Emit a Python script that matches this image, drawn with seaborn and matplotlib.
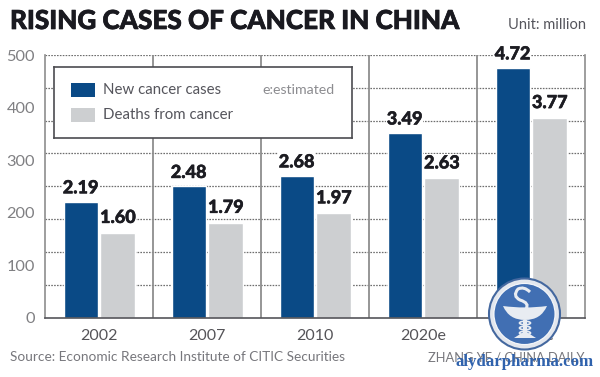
import matplotlib
matplotlib.use("Agg")
import matplotlib.pyplot as plt
import matplotlib.patches as mp
import matplotlib.patheffects as pe
from matplotlib.path import Path
import pandas as pd
import seaborn as sns

years = ["2002", "2007", "2010", "2020e", "2050e"]
new_cases = [2.19, 2.48, 2.68, 3.49, 4.72]
deaths = [1.60, 1.79, 1.97, 2.63, 3.77]
new_labels = ["2.19", "2.48", "2.68", "3.49", "4.72"]
death_labels = ["1.60", "1.79", "1.97", "2.63", "3.77"]
y_ticks = [0, 0.99, 1.98, 2.97, 3.96, 4.95]
y_tick_labels = ["0", "100", "200", "300", "400", "500"]
grid_levels = [0.62, 1.24, 1.86, 2.48, 3.10, 3.72, 4.34, 4.96]
series_names = ["New cancer cases", "Deaths from cancer"]

BLUE = "#0a4a86"
GRAY = "#cdcfd1"
W, H = 600, 377

sns.set_theme(style="white")
plt.rcParams["font.family"] = ["Lato", "DejaVu Sans"]

df = pd.DataFrame({
    "year": years * 2,
    "value": new_cases + deaths,
    "series": [series_names[0]] * 5 + [series_names[1]] * 5,
})

fig = plt.figure(figsize=(W / 100, H / 100), dpi=100, facecolor="white")
ax = fig.add_axes([45.3 / W, 1 - 317.5 / H, 540 / W, 262.5 / H])

ax.hlines(grid_levels, -0.5, 4.5, colors="#6e6e6e", linewidth=0.9,
          linestyles=(0, (1.3, 1.0)), zorder=1)
ax.vlines([0.5, 1.5, 2.5, 3.5], 0, 4.96, colors="#8e8e8e", linewidth=1.3, zorder=1)

sns.barplot(data=df, x="year", y="value", hue="series", order=years,
            hue_order=series_names, palette=[BLUE, GRAY], width=0.68, gap=0.06,
            saturation=1, legend=False, ax=ax, zorder=3)

ax.set_xlim(-0.5, 4.5)
ax.set_ylim(0, 4.96)
ax.set_xlabel("")
ax.set_ylabel("")
ax.set_yticks(y_ticks, y_tick_labels)
ax.tick_params(axis="y", length=0, pad=7.5, labelsize=11.8, labelcolor="#808083")
ax.tick_params(axis="x", length=0, pad=8.5, labelsize=11.5, labelcolor="#555458")
for side, spine in ax.spines.items():
    spine.set_visible(True)
    spine.set_color("#8e8e8e")
    spine.set_linewidth(1.2)
ax.spines["top"].set_visible(False)
ax.spines["bottom"].set_color("#55555a")
ax.spines["bottom"].set_zorder(5)

heavy = [pe.withStroke(linewidth=0.35, foreground="#1c1c22")]
box = dict(facecolor="white", edgecolor="none", pad=0.6)
for i, (v, d) in enumerate(zip(new_cases, deaths)):
    ax.text(i - 0.175, v + 0.1, new_labels[i], ha="center", va="bottom",
            fontsize=13, fontweight="black", color="#1c1c22", zorder=6,
            path_effects=heavy, bbox=box)
    ax.text(i + 0.17, d + 0.13, death_labels[i], ha="center", va="bottom",
            fontsize=13, fontweight="black", color="#1c1c22", zorder=6,
            path_effects=heavy, bbox=box)


def px(x, y):
    return x / W, 1 - y / H


fig.text(*px(10, 21), "RISING CASES OF CANCER IN CHINA", fontsize=18.8,
         fontweight="black", color="#1a1a20", va="center", ha="left",
         path_effects=[pe.withStroke(linewidth=0.5, foreground="#1a1a20")])
fig.text(*px(586, 25), "Unit: million", fontsize=10.5, color="#55555c",
         va="center", ha="right")
fig.text(*px(10, 357), "Source: Economic Research Institute of CITIC Securities",
         fontsize=9.85, color="#77777c", va="center", ha="left")
fig.text(*px(585, 357), "ZHANG YE / CHINA DAILY", fontsize=9.3, color="#77777c",
         va="center", ha="right", zorder=1)

# legend box
leg_ax = fig.add_axes([54 / W, 1 - 138 / H, 298 / W, 71 / H], zorder=4)
leg_ax.set_xlim(54, 352)
leg_ax.set_ylim(138, 67)
leg_ax.set_xticks([])
leg_ax.set_yticks([])
leg_ax.set_facecolor("white")
for s in leg_ax.spines.values():
    s.set_color("#4b4b50")
    s.set_linewidth(1.2)
leg_ax.add_patch(mp.Rectangle((71, 83), 24, 14, color=BLUE, lw=0))
leg_ax.add_patch(mp.Rectangle((71, 108), 24, 14, color=GRAY, lw=0))
leg_ax.text(103, 90, series_names[0], fontsize=10.8, color="#55555c", va="center")
leg_ax.text(103, 115, series_names[1], fontsize=10.8, color="#55555c", va="center")
leg_ax.text(262, 90, "e:estimated", fontsize=10.2, color="#8c8c90", va="center")

# watermark
wm = fig.add_axes([0, 0, 1, 1], zorder=10)
wm.set_xlim(0, W)
wm.set_ylim(H, 0)
wm.axis("off")
wm.patch.set_alpha(0)
cx, cy = 524.5, 314
LIGHT = "#e8ecf2"
wm.add_patch(mp.Circle((cx, cy), 35.5, fc="#e3e7ee", ec="#44689f", lw=1.5))
wm.add_patch(mp.Circle((cx, cy), 30.5, fc="#2f62ad", ec="#ffffff", lw=0.8, alpha=0.9))
# bowl
wm.add_patch(mp.PathPatch(Path(
    [(503, 306), (525, 309), (547, 306), (541, 320), (525, 320), (509, 320), (503, 306)],
    [Path.MOVETO, Path.CURVE3, Path.CURVE3, Path.CURVE3, Path.CURVE3, Path.CURVE3, Path.CURVE3]),
    fc=LIGHT, ec="none"))
# stem and foot
wm.add_patch(mp.Rectangle((523, 320), 3.5, 16, fc=LIGHT, ec="none"))
wm.add_patch(mp.Polygon([(514, 338), (536, 338), (525, 331)], fc=LIGHT, ec="none"))
# serpent head and S curve
wm.add_patch(mp.PathPatch(Path(
    [(530, 292), (524, 286), (518, 289), (512, 296), (520, 300), (530, 303), (526, 309)],
    [Path.MOVETO, Path.CURVE3, Path.CURVE3, Path.CURVE3, Path.CURVE3, Path.CURVE3, Path.CURVE3]),
    fc="none", ec=LIGHT, lw=2.2))
# serpent coils
for coil_y in (323, 328, 333):
    wm.add_patch(mp.Ellipse((525, coil_y), 11, 3.5, fc="none", ec=LIGHT, lw=1.2))
wm.text(594, 362, "alydarpharma.com", fontsize=12.2, fontweight="bold",
        family="Liberation Serif", color="#2f62ad", ha="right", va="center")

fig.savefig("out.png", dpi=100)
